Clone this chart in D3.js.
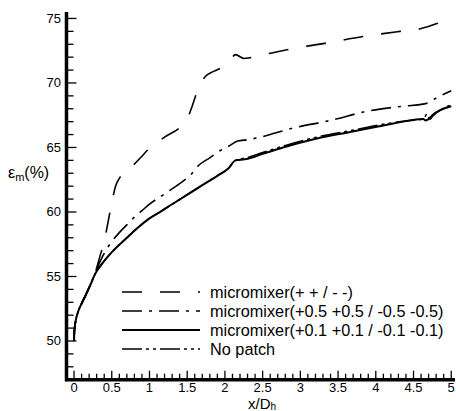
<!DOCTYPE html>
<html><head><meta charset="utf-8">
<script src="https://cdn.jsdelivr.net/npm/d3@7"></script>
<style>
html,body{margin:0;padding:0;background:#fff;}
svg{display:block;font-family:"Liberation Sans",Arial,sans-serif;}
</style></head>
<body><svg id="c" width="456" height="411"></svg>
<script>
// ---- data ----
const seriesNames = [
  "micromixer(+ + / - -)",
  "micromixer(+0.5 +0.5 / -0.5 -0.5)",
  "micromixer(+0.1 +0.1 / -0.1 -0.1)",
  "No patch"
];
const dashX = [0,0.005,0.02,0.05,0.1,0.15,0.22,0.28,0.34,0.41,0.45,0.5,0.55,0.6,0.68,0.78,0.88,1.01,1.2,1.43,1.5,1.56,1.63,1.74,1.85,1.96,2.05,2.14,2.25,2.33,2.6,2.84,3.35,3.83,4.32,4.59,4.81,5.0];
const dashY = [50,50.8,51.5,52.2,52.9,53.5,54.4,55.3,56.5,58.0,59.2,60.7,62.0,62.6,63.1,63.6,64.2,65.0,65.8,66.7,67.2,68.1,69.3,70.5,70.9,71.2,71.6,72.2,71.9,71.95,72.3,72.6,73.1,73.6,74.0,74.2,74.6,75.1];
const dashDotX = [0,0.005,0.02,0.05,0.1,0.15,0.22,0.28,0.4,0.5,0.6,0.7,0.8,0.9,1.0,1.2,1.4,1.55,1.65,1.8,1.95,2.05,2.17,2.3,2.47,2.9,3.4,3.88,4.36,4.66,4.79,5.0];
const dashDotY = [50,50.8,51.5,52.2,52.9,53.5,54.4,55.3,56.8,57.7,58.4,59.0,59.6,60.1,60.6,61.4,62.2,62.9,63.6,64.2,64.8,65.1,65.5,65.6,65.8,66.5,67.1,67.8,68.2,68.4,68.8,69.4];
const solidX = [0,0.005,0.02,0.05,0.1,0.15,0.22,0.28,0.4,0.52,0.7,0.83,1.0,1.14,1.3,1.49,1.76,1.9,2.05,2.14,2.29,2.5,2.77,3.22,3.66,4.1,4.46,4.63,4.66,4.7,4.75,5.0];
const solidY = [50,50.8,51.5,52.2,52.9,53.5,54.4,55.2,56.2,57.0,58.0,58.7,59.5,60.0,60.6,61.3,62.3,62.8,63.4,64.0,64.1,64.5,65.0,65.7,66.2,66.7,67.1,67.2,67.1,67.2,67.5,68.2];
const noPatchX = [0,0.005,0.02,0.05,0.1,0.15,0.22,0.28,0.4,0.52,0.7,0.83,1.0,1.14,1.3,1.49,1.76,1.9,2.05,2.14,2.29,2.5,2.77,3.22,3.66,4.1,4.46,4.63,4.68,4.72,4.75,5.0];
const noPatchY = [50,50.8,51.5,52.2,52.9,53.5,54.4,55.2,56.2,57.0,58.0,58.7,59.5,60.0,60.6,61.3,62.3,62.8,63.4,64.0,64.2,64.6,65.1,65.8,66.3,66.8,67.1,67.2,67.6,67.2,67.4,68.3];
const xTickLabels = ["0","0.5","1","1.5","2","2.5","3","3.5","4","4.5","5"];
const yTickLabels = ["50","55","60","65","70","75"];

// ---- layout ----
const svg = d3.select("#c");
const x = d3.scaleLinear().domain([-0.1, 5.05]).range([66.5, 455]);
const y = d3.scaleLinear().domain([47, 75.5]).range([379.7, 12]);

const styles = [
  {dash:"20,18", w:1.6},
  {dash:"20,7,3,7", w:1.6},
  {dash:null, w:2},
  {dash:"20,4,3,4,3,4", w:1.6}
];
const data = [
  dashX.map((d,i)=>[d,dashY[i]]),
  dashDotX.map((d,i)=>[d,dashDotY[i]]),
  solidX.map((d,i)=>[d,solidY[i]]),
  noPatchX.map((d,i)=>[d,noPatchY[i]])
];
const line = d3.line().x(d=>x(d[0])).y(d=>y(d[1])).curve(d3.curveMonotoneX);

[3,2,1,0].forEach(i=>{
  svg.append("path").attr("d", line(data[i]))
    .attr("fill","none").attr("stroke","#000")
    .attr("stroke-width", styles[i].w)
    .attr("stroke-dasharray", styles[i].dash);
});

// ---- axes ----
const xMinor = d3.range(0, 51).map(d=>d/10);
const yMinor = d3.range(47, 76);
const xAxisY = y(47), yAxisX = x(-0.1);

xMinor.forEach(v=>{
  const major = Math.abs(v*2 - Math.round(v*2)) < 1e-6;
  svg.append("line").attr("x1",x(v)).attr("x2",x(v))
    .attr("y1",xAxisY).attr("y2",xAxisY-(major?9:6))
    .attr("stroke","#000").attr("stroke-width",1.3);
});
yMinor.forEach(v=>{
  const major = v%5===0;
  svg.append("line").attr("y1",y(v)).attr("y2",y(v))
    .attr("x1",yAxisX).attr("x2",yAxisX+(major?10:7))
    .attr("stroke","#000").attr("stroke-width",1.3);
});
svg.append("line").attr("x1",yAxisX).attr("x2",yAxisX).attr("y1",y(75.5)).attr("y2",xAxisY+1.5)
  .attr("stroke","#000").attr("stroke-width",3.5);
svg.append("line").attr("x1",yAxisX-1.5).attr("x2",x(5.05)).attr("y1",xAxisY).attr("y2",xAxisY)
  .attr("stroke","#000").attr("stroke-width",3.5);

xTickLabels.forEach(t=>{
  svg.append("text").attr("x",x(+t)).attr("y",392).attr("text-anchor","middle")
    .attr("font-size",13).attr("fill","#000").text(t);
});
yTickLabels.forEach(t=>{
  svg.append("text").attr("x",61).attr("y",y(+t)+4.5).attr("text-anchor","end")
    .attr("font-size",13).attr("fill","#000").text(t);
});

// axis titles
const yt = svg.append("text").attr("x",8).attr("y",178).attr("font-size",16).attr("fill","#000");
yt.append("tspan").text("ε");
yt.append("tspan").attr("font-size",11).attr("dy",3).text("m");
yt.append("tspan").attr("dy",-3).text("(%)");
const xt = svg.append("text").attr("x",248).attr("y",409).attr("font-size",15).attr("fill","#000");
xt.append("tspan").text("x/D");
xt.append("tspan").attr("font-size",10).attr("dy",1).text("h");

// ---- legend ----
const legY = [292, 311, 330, 349];
seriesNames.forEach((n,i)=>{
  svg.append("line").attr("x1",122).attr("x2",200).attr("y1",legY[i]).attr("y2",legY[i])
    .attr("stroke","#000").attr("stroke-width",styles[i].w)
    .attr("stroke-dasharray",styles[i].dash);
  svg.append("text").attr("x",210).attr("y",legY[i]+5.5).attr("font-size",16.3)
    .attr("fill","#000").text(n);
});
</script>
</body></html>
